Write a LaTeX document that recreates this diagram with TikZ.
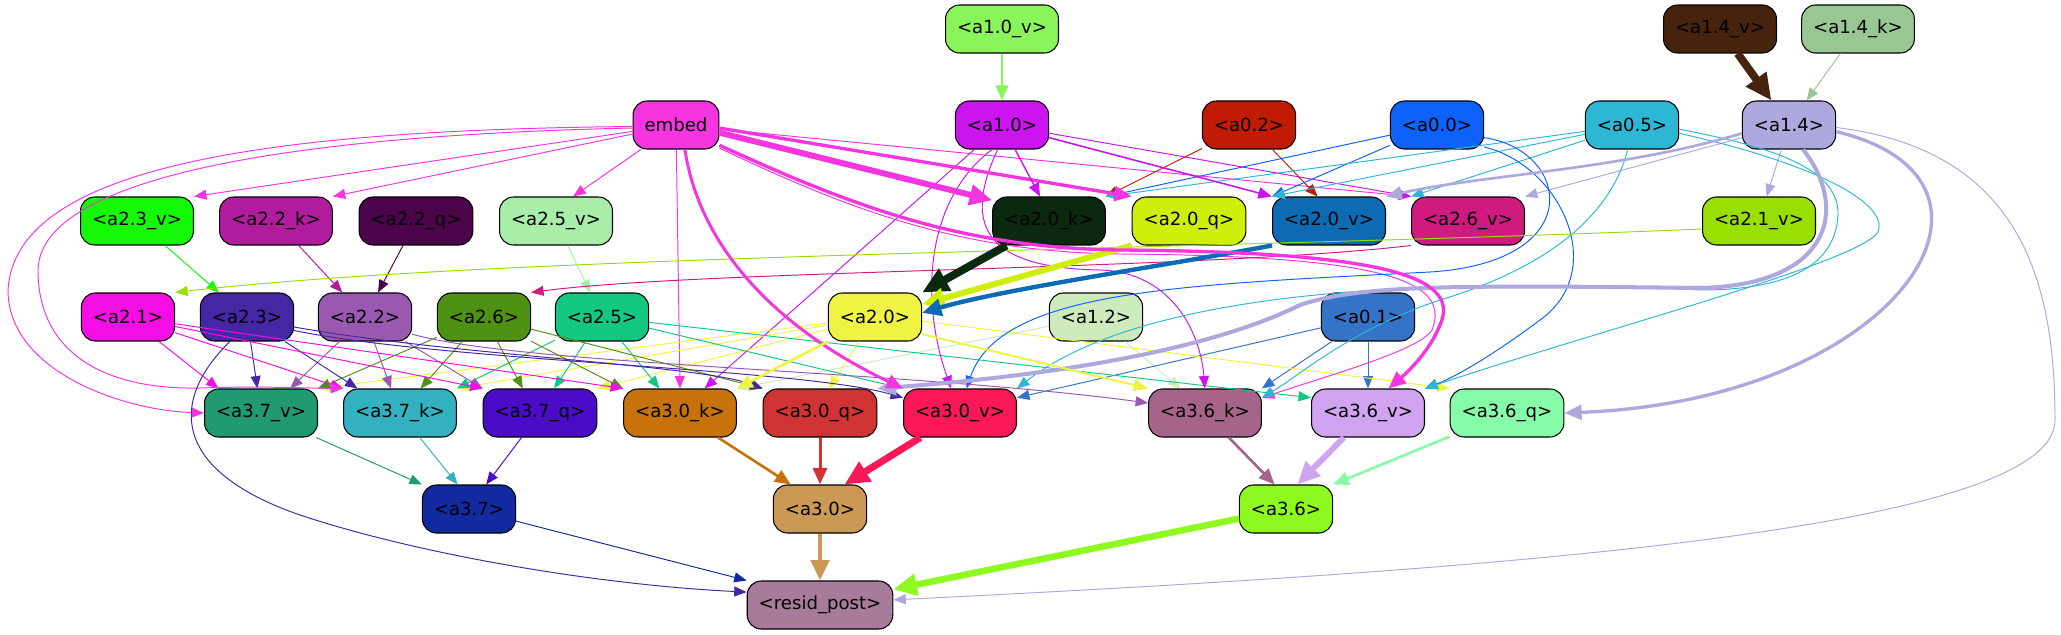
\documentclass[tikz,border=0pt]{standalone}
\usepackage{fontspec}
\setmainfont{DejaVu Sans}
\usetikzlibrary{arrows.meta}

% node colours (edges take the colour of their source)
\definecolor{a10v}{HTML}{8AF55B}
\definecolor{a14v}{HTML}{46230C}
\definecolor{a14k}{HTML}{99C793}
\definecolor{embed}{HTML}{F535E0}
\definecolor{a10}{HTML}{CC14F0}
\definecolor{a02}{HTML}{C21B05}
\definecolor{a00}{HTML}{0C62FB}
\definecolor{a05}{HTML}{2CB8D4}
\definecolor{a14}{HTML}{ADA9DE}
\definecolor{a23v}{HTML}{15F808}
\definecolor{a22k}{HTML}{B11C9F}
\definecolor{a22q}{HTML}{4B0349}
\definecolor{a25v}{HTML}{A8EEA9}
\definecolor{a20k}{HTML}{0A290E}
\definecolor{a20q}{HTML}{CFEE0A}
\definecolor{a20v}{HTML}{0C6BB3}
\definecolor{a26v}{HTML}{CF1B7F}
\definecolor{a21v}{HTML}{9ADF02}
\definecolor{a21}{HTML}{F50EE4}
\definecolor{a23}{HTML}{4526A5}
\definecolor{a22}{HTML}{9B58B1}
\definecolor{a26}{HTML}{4F9113}
\definecolor{a25}{HTML}{12C882}
\definecolor{a20}{HTML}{F0F244}
\definecolor{a12}{HTML}{CDEBBD}
\definecolor{a01}{HTML}{3473C8}
\definecolor{a37v}{HTML}{219A74}
\definecolor{a37k}{HTML}{32B1C1}
\definecolor{a37q}{HTML}{4A0CC8}
\definecolor{a30k}{HTML}{C8720C}
\definecolor{a30q}{HTML}{CF3334}
\definecolor{a30v}{HTML}{FB1858}
\definecolor{a36k}{HTML}{A6648A}
\definecolor{a36v}{HTML}{D0A4F1}
\definecolor{a36q}{HTML}{86FCA8}
\definecolor{a37}{HTML}{112AA0}
\definecolor{a30}{HTML}{CB9856}
\definecolor{a36}{HTML}{8DF91E}
\definecolor{resid}{HTML}{A77B99}

\tikzset{
  box/.style={draw=black, line width=0.6pt, rounded corners=0.28cm, inner xsep=0.23cm, inner ysep=0pt, minimum height=0.96cm, font=\fontsize{10.3}{12}\selectfont},
  e/.style={-{Triangle[length=6pt 2, width=4.6pt 2]}, line width=0.55pt}
}

\begin{document}
\begin{tikzpicture}[x=0.02cm, y=-0.02cm]
    \useasboundingbox (0,0) rectangle (2061,635);

    % Nodes (name/x/y/label), one row per layer
    \foreach \n/\px/\py/\l in {a10v/1002/29/{<a1.0\_v>}, a14v/1720/29/{<a1.4\_v>}, a14k/1858/29/{<a1.4\_k>},
        embed/676/125/{embed}, a10/1002/125/{<a1.0>}, a02/1249/125/{<a0.2>}, a00/1437/125/{<a0.0>}, a05/1632/125/{<a0.5>}, a14/1789/125/{<a1.4>},
        a23v/137/221/{<a2.3\_v>}, a22k/276/221/{<a2.2\_k>}, a22q/416/221/{<a2.2\_q>}, a25v/556/221/{<a2.5\_v>},
        a20k/1049/221/{<a2.0\_k>}, a20q/1189/221/{<a2.0\_q>}, a20v/1329/221/{<a2.0\_v>}, a26v/1468/221/{<a2.6\_v>}, a21v/1759/221/{<a2.1\_v>},
        a21/128/317/{<a2.1>}, a23/247/317/{<a2.3>}, a22/365/317/{<a2.2>}, a26/484/317/{<a2.6>}, a25/602/317/{<a2.5>},
        a20/875/317/{<a2.0>}, a12/1096/317/{<a1.2>}, a01/1368/317/{<a0.1>},
        a37v/261/413/{<a3.7\_v>}, a37k/400/413/{<a3.7\_k>}, a37q/540/413/{<a3.7\_q>}, a30k/680/413/{<a3.0\_k>}, a30q/820/413/{<a3.0\_q>},
        a30v/960/413/{<a3.0\_v>}, a36k/1205/413/{<a3.6\_k>}, a36v/1368/413/{<a3.6\_v>}, a36q/1507/413/{<a3.6\_q>},
        a37/469/509/{<a3.7>}, a30/820/509/{<a3.0>}, a36/1286/509/{<a3.6>},
        resid/820/605/{<resid\_post>}}
        \node[box, fill=\n] (\n) at (\px,\py) {\l};

    % Thin straight edges (source/targets)
    \foreach \s/\tl in {embed/{a23v.north east, a22k.north east, a25v.55, a26v.north west, a30k.north},
        a14k/{a14}, a10/{a26v.north west, a30k.45},
        a02/{a20k.north east, a20v.115}, a00/{a20k.north east, a20v.north west},
        a05/{a20k.north east, a20v.north west, a26v.north west}, a14/{a26v.north east, a21v},
        a25v/{a25}, a23v/{a23}, a22k/{a22}, a22q/{a22},
        a20/{a37v.north east, a37k.north east, a37q.north east, a30q.70},
        a12/{a30k.north east, a36k.135}, a01/{a30v.15, a36k.north east, a36v},
        a25/{a37k.north east, a37q.60, a30k.130, a30v.north west, a36v.165},
        a26/{a37v.north east, a37k.50, a37q.125, a30k.north west, a30q.north west},
        a22/{a37v.40, a37k.110, a37q.north west}, a23/{a37v, a37k.150},
        a21/{a37v.150, a37k.north west, a37q.north west, a30k.north west},
        a37v/{a37.north west}, a37k/{a37.115}, a37q/{a37.55}, a37/{resid.north west}}
        \foreach \t in \tl
            \draw[e, color=\s] (\s) -- (\t);
    \draw[e, color=a20] (a20.-5) -- (a36q.north west);

    % Thin curved edges
    \draw[e, color=embed] (embed.-178) .. controls (250,130) and (15,170) .. (8,290)
        .. controls (8,370) and (120,410) .. (a37v.west);
    \draw[e, color=embed] (embed.-176) .. controls (300,135) and (40,175) .. (38,270)
        .. controls (38,350) and (100,390) .. (200,388) .. controls (260,386) and (300,388) .. (a37k.north west);
    \draw[e, color=embed] (embed.-28) .. controls (850,210) and (960,252) .. (1120,254)
        .. controls (1395,256) and (1450,283) .. (1432,330) .. controls (1420,350) and (1330,375) .. (a36k.15);
    \draw[e, color=a10] (a10.-112) .. controls (925,200) and (920,300) .. (a30v.110);
    \draw[e, color=a10] (a10.-100) .. controls (960,230) and (990,268) .. (1100,270)
        .. controls (1170,272) and (1200,330) .. (a36k.north);
    \draw[e, color=a00] (a00.-15) .. controls (1570,150) and (1590,262) .. (1430,272)
        .. controls (1180,285) and (1000,290) .. (a30v.75);
    \draw[e, color=a00] (a00.-25) .. controls (1560,165) and (1610,270) .. (1540,320)
        .. controls (1500,350) and (1460,375) .. (a36v.north east);
    \draw[e, color=a05] (a05.-5) .. controls (1760,145) and (1840,165) .. (1838,215)
        .. controls (1835,270) and (1780,290) .. (1700,290) .. controls (1450,278) and (1150,285) .. (a30v.north east);
    \draw[e, color=a05] (a05.-10) .. controls (1800,160) and (1890,200) .. (1878,232)
        .. controls (1860,262) and (1600,330) .. (a36v.north east);
    \draw[e, color=a05] (a05.-100) .. controls (1610,220) and (1540,270) .. (1440,300)
        .. controls (1350,330) and (1300,375) .. (a36k.15);
    \draw[e, color=a14] (a14.-3) .. controls (2020,150) and (2055,280) .. (2055,420)
        .. controls (2055,530) and (1500,570) .. (resid.4);
    \draw[e, color=a21v] (a21v.188) .. controls (1200,250) and (500,255) .. (a21.north east);
    \draw[e, color=a26v] (a26v.south west) .. controls (1200,270) and (700,270) .. (a26.north east);
    \draw[e, color=a22] (a22.-20) .. controls (520,365) and (900,370) .. (a36k.170);
    \draw[e, color=a23] (a23.-12) .. controls (450,355) and (700,365) .. (a30q.north west);
    \draw[e, color=a23] (a23.-16) .. controls (450,362) and (800,368) .. (a30v.165);
    \draw[e, color=a23] (a23.235) .. controls (170,400) and (170,470) .. (300,515)
        .. controls (420,555) and (600,585) .. (resid.170);

    % Heavier edges
    \draw[e, color=a10v, line width=1.3pt] (a10v) -- (a10);
    \draw[e, color=a14v, line width=4.5pt] (a14v) -- (a14);
    \draw[e, color=embed, line width=3.4pt] (embed.-10) -- (a20k.160);
    \draw[e, color=embed, line width=1.9pt] (embed.-4) -- (a20q.north west);
    \draw[e, color=a10, line width=0.8pt] (a10) -- (a20k.110);
    \draw[e, color=a10, line width=0.9pt] (a10.-15) -- (a20v.north west);
    \draw[e, color=a20k, line width=4.5pt] (a20k.210) -- (a20.north east);
    \draw[e, color=a20q, line width=3.4pt] (a20q.south west) -- (a20.15);
    \draw[e, color=a20v, line width=2.5pt] (a20v.south west) .. controls (1150,268) and (1000,290) .. (a20.5);
    \draw[e, color=a14, line width=1.5pt] (a14.190) .. controls (1620,170) and (1480,175) .. (a20v.north east);
    \draw[e, color=a14, line width=2.3pt] (a14.-60) .. controls (1850,210) and (1830,285) .. (1700,288)
        .. controls (1450,285) and (1360,285) .. (1300,305) .. controls (1230,340) and (1100,372) .. (a30q.north east);
    \draw[e, color=a14, line width=1.9pt] (a14.-8) .. controls (2040,180) and (1900,400) .. (a36q.east);
    \draw[e, color=embed, line width=1.7pt] (embed.-70) .. controls (700,250) and (780,330) .. (a30v.north west);
    \draw[e, color=embed, line width=1.9pt] (embed.-25) .. controls (850,205) and (960,248) .. (1120,250)
        .. controls (1400,252) and (1460,280) .. (1440,325) .. controls (1430,350) and (1410,370) .. (a36v.50);
    \draw[e, color=a20, line width=1.5pt] (a20.south west) -- (a30k.north east);
    \draw[e, color=a20, line width=1.1pt] (a20.-20) -- (a36k.north west);

    % Into the layer 3 sums and the residual
    \draw[e, color=a30k, line width=1.5pt] (a30k) -- (a30.140);
    \draw[e, color=a30q, line width=1.7pt] (a30q) -- (a30);
    \draw[e, color=a30v, line width=4pt] (a30v) -- (a30.45);
    \draw[e, color=a36k, line width=1.5pt] (a36k) -- (a36.115);
    \draw[e, color=a36v, line width=3.4pt] (a36v) -- (a36.65);
    \draw[e, color=a36q, line width=1.5pt] (a36q) -- (a36.north east);
    \draw[e, color=a30, line width=2.8pt] (a30) -- (resid);
    \draw[e, color=a36, line width=3.7pt] (a36) -- (resid.12);

\end{tikzpicture}
\end{document}
